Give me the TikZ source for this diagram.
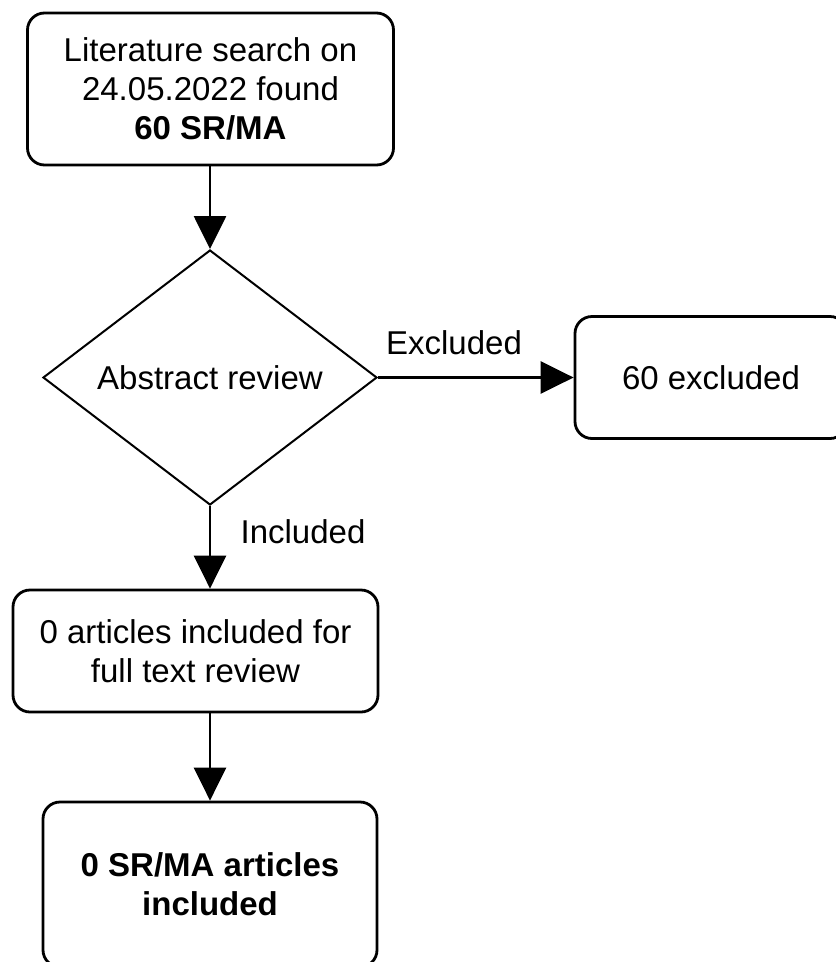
\documentclass[tikz,border=0pt]{standalone}
\usepackage{fontspec}
\setmainfont{Liberation Sans}
\usetikzlibrary{arrows.meta,shapes.geometric}
\begin{document}
\begin{tikzpicture}[x=1pt,y=-1pt,
  every node/.style={font=\fontsize{33}{39}\selectfont},
  box/.style={draw, line width=2.8pt, rounded corners=17pt, align=center, inner sep=0pt},
  decision/.style={draw, diamond, line width=2pt, inner sep=0pt, align=center,
    minimum width=334pt, minimum height=255pt},
  conn/.style={line width=2.8pt, -{Triangle[length=33pt,width=32pt]}},
  lbl/.style={inner sep=0pt}]
\useasboundingbox (0,0) rectangle (836,962);
\clip (0,0) rectangle (836,962);

\node[box, minimum width=366pt, minimum height=152pt] (b1) at (210.5,89)
  {Literature search on\\24.05.2022 found\\\textbf{60 SR/MA}};
\node[decision] (d) at (210,377.5) {Abstract review};
\node[box, minimum width=272pt, minimum height=122pt] (b2) at (711,377.5) {60 excluded};
\node[box, minimum width=365pt, minimum height=122pt] (b3) at (195.5,651)
  {0 articles included for\\full text review};
\node[box, minimum width=334pt, minimum height=165pt] (b4) at (210,884.5)
  {\textbf{0 SR/MA articles}\\\textbf{included}};

\node[lbl] (lx) at (454,343) {Excluded};
\node[lbl] (li) at (303,532) {Included};

\draw[conn] (d.north |- b1.south) -- (d.north);
\draw[conn] (d.east) -- (b2.west);
\draw[conn] (d.south) -- (d.south |- b3.north);
\draw[conn] (d.south |- b3.south) -- (d.south |- b4.north);
\end{tikzpicture}
\end{document}
